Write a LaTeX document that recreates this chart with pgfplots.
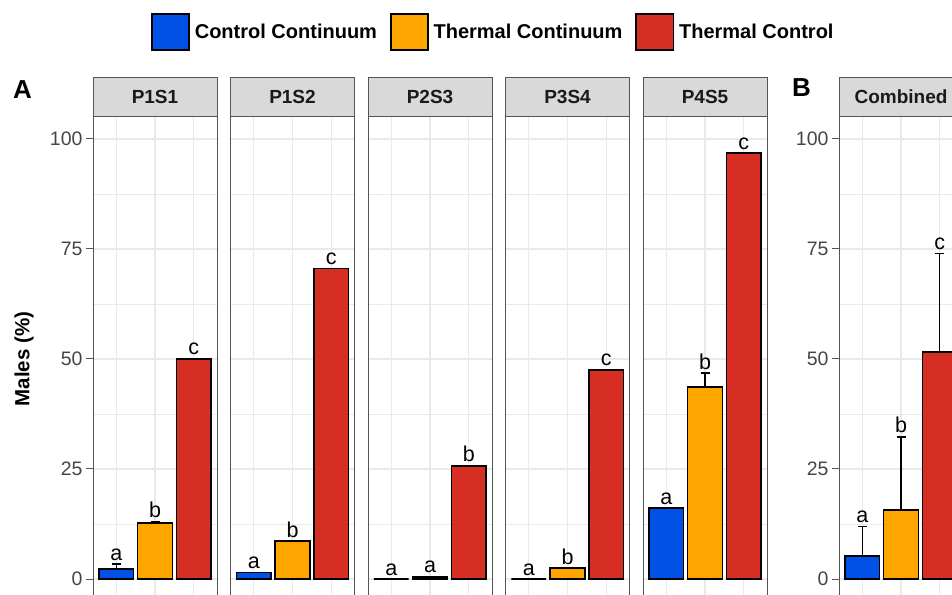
\documentclass[border=0pt]{standalone}
\usepackage{fontspec}
\setmainfont{Liberation Sans}
\usepackage{pgfplots}
\pgfplotsset{compat=1.18}
\definecolor{cblue}{RGB}{0,82,230}
\definecolor{corange}{RGB}{255,165,0}
\definecolor{cred}{RGB}{214,46,34}
\definecolor{stripgray}{RGB}{217,217,217}
\definecolor{gridgray}{RGB}{233,233,233}
\definecolor{bordergray}{RGB}{85,85,85}
\definecolor{ticktext}{RGB}{70,70,70}
\definecolor{striptext}{RGB}{26,26,26}
\pgfplotsset{
 facet/.style={
  scale only axis, width=124pt, height=484pt,
  xmin=0.4, xmax=3.6, ymin=-5, ymax=105,
  xtick={1,2,3}, xticklabels={},
  ytick={0,25,50,75,100},
  minor ytick={12.5,37.5,62.5,87.5},
  ytick pos=left,
  xmajorgrids, ymajorgrids, yminorgrids,
  major grid style={gridgray, line width=1.4pt},
  minor grid style={gridgray, line width=0.7pt},
  axis line style={bordergray, line width=1pt},
  xtick style={draw=none},
  minor tick length=0pt,
  tick align=outside,
  major tick length=7pt,
  ytick style={bordergray, line width=1pt},
  yticklabel style={font=\fontsize{19.5}{20}\selectfont, text=ticktext},
  /pgf/number format/assume math mode=true,
  clip=false,
  anchor=south west,
 },
 noylabels/.style={yticklabels={}, ytick style={draw=none}},
 bar/.style={ybar, bar width=0.9, bar shift=0pt, draw=black, line width=1.4pt, forget plot},
 errs/.style={error bars/.cd, y dir=plus, y explicit, error bar style={black, line width=1.4pt}, error mark options={rotate=90, mark size=4.5pt, black, line width=1.4pt}},
 lbl/.style={draw=none, mark=none, forget plot, nodes near coords, point meta=explicit symbolic, every node near coord/.style={anchor=base, yshift=4pt, inner sep=0pt, font=\fontsize{21.5}{21.5}\selectfont}},
 legimg/.style={draw=black, line width=1.6pt, legend image code/.code={\draw[##1] (0pt,-18pt) rectangle (37pt,18pt);}},
}
\newcommand{\strip}[1]{%
  \draw[fill=stripgray, draw=bordergray, line width=1pt] (axis description cs:0,1) rectangle (axis description cs:1,1.0826);
  \node[font=\bfseries\fontsize{19}{20}\selectfont, text=striptext] at (axis description cs:0.5,1.0413) {#1};}
\begin{document}
\begin{tikzpicture}
\path[use as bounding box] (0pt,0pt) rectangle (952pt,594pt);
% P1S1
\begin{axis}[facet, at={(93pt,-7pt)},
  ylabel={\bfseries Males (\%)},
  every axis y label/.style={at={(axis description cs:-0.556,0.5)}, rotate=90, anchor=center, font=\fontsize{20.5}{22}\selectfont},
  legend columns=3,
  legend style={at={(axis description cs:0.468,1.215)}, anchor=north west, draw=none, fill=none, inner sep=0pt,
    font=\bfseries\fontsize{20}{24}\selectfont,
    /tikz/every odd column/.append style={column sep=3pt},
    /tikz/every even column/.append style={column sep=11pt}},
  legend cell align=left]
\addlegendimage{legimg, fill=cblue}\addlegendentry{Control Continuum}
\addlegendimage{legimg, fill=corange}\addlegendentry{Thermal Continuum}
\addlegendimage{legimg, fill=cred}\addlegendentry{Thermal Control}
\addplot[bar, fill=cblue, errs] coordinates {(1,2.3) +- (0,1.1)};
\addplot[bar, fill=corange, errs] coordinates {(2,12.7) +- (0,0.3)};
\addplot[bar, fill=cred] coordinates {(3,50.0)};
\addplot[lbl] coordinates {(1,3.4)[a] (2,13.0)[b] (3,50.0)[c]};
\strip{P1S1}
\end{axis}
% P1S2
\begin{axis}[facet, noylabels, at={(230.5pt,-7pt)}]
\addplot[bar, fill=cblue] coordinates {(1,1.5)};
\addplot[bar, fill=corange] coordinates {(2,8.6)};
\addplot[bar, fill=cred] coordinates {(3,70.5)};
\addplot[lbl] coordinates {(1,1.5)[a] (2,8.6)[b] (3,70.5)[c]};
\strip{P1S2}
\end{axis}
% P2S3
\begin{axis}[facet, noylabels, at={(368pt,-7pt)}]
\addplot[bar, fill=cblue] coordinates {(1,0)};
\addplot[bar, fill=corange] coordinates {(2,0.5)};
\addplot[bar, fill=cred] coordinates {(3,25.7)};
\addplot[lbl] coordinates {(1,0)[a] (2,0.5)[a] (3,25.7)[b]};
\strip{P2S3}
\end{axis}
% P3S4
\begin{axis}[facet, noylabels, at={(505.5pt,-7pt)}]
\addplot[bar, fill=cblue] coordinates {(1,0)};
\addplot[bar, fill=corange] coordinates {(2,2.5)};
\addplot[bar, fill=cred] coordinates {(3,47.5)};
\addplot[lbl] coordinates {(1,0)[a] (2,2.5)[b] (3,47.5)[c]};
\strip{P3S4}
\end{axis}
% P4S5
\begin{axis}[facet, noylabels, at={(643pt,-7pt)}]
\addplot[bar, fill=cblue] coordinates {(1,16.1)};
\addplot[bar, fill=corange, errs] coordinates {(2,43.6) +- (0,3.2)};
\addplot[bar, fill=cred] coordinates {(3,96.8)};
\addplot[lbl] coordinates {(1,16.1)[a] (2,46.8)[b] (3,96.8)[c]};
\strip{P4S5}
\end{axis}
% Combined
\begin{axis}[facet, at={(839pt,-7pt)}]
\addplot[bar, fill=cblue, errs] coordinates {(1,5.2) +- (0,6.8)};
\addplot[bar, fill=corange, errs] coordinates {(2,15.7) +- (0,16.6)};
\addplot[bar, fill=cred, errs] coordinates {(3,51.6) +- (0,22.4)};
\addplot[lbl] coordinates {(1,12.0)[a] (2,32.3)[b] (3,74.0)[c]};
\strip{Combined}
\end{axis}
\node[anchor=base west, inner sep=0pt, font=\bfseries\fontsize{26}{26}\selectfont] at (13pt,495pt) {A};
\node[anchor=base west, inner sep=0pt, font=\bfseries\fontsize{26}{26}\selectfont] at (792pt,497pt) {B};
\end{tikzpicture}
\end{document}
